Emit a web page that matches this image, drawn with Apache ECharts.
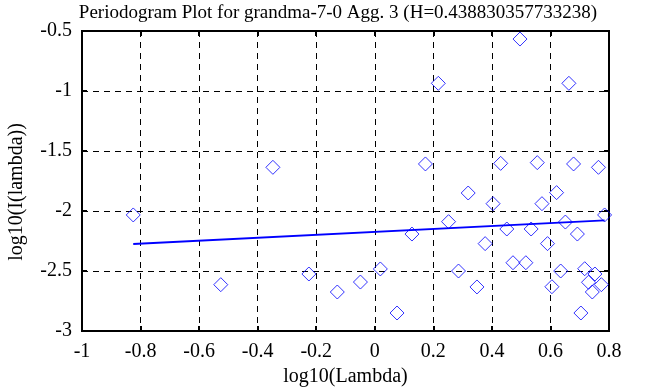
<!DOCTYPE html>
<html><head><meta charset="utf-8">
<script src="https://cdn.jsdelivr.net/npm/echarts@6/dist/echarts.min.js"></script>
<style>html,body{margin:0;padding:0;background:#fff;}#c{width:658px;height:387px;}</style>
</head><body><div id="c"></div>
<script>
var titleText = 'Periodogram Plot for grandma-7-0 Agg. 3 (H=0.438830357733238)';
var xName = 'log10(Lambda)';
var yName = 'log10(I(lambda))';
var xTicks = [-1, -0.8, -0.6, -0.4, -0.2, 0, 0.2, 0.4, 0.6, 0.8];
var yTicks = [-3, -2.5, -2, -1.5, -1, -0.5];
var logLambda = [-0.825,-0.526,-0.348,-0.225,-0.128,-0.049,0.019,0.076,0.127,0.173,0.217,0.252,0.286,0.319,0.349,0.377,0.404,0.430,0.451,0.472,0.496,0.516,0.534,0.555,0.571,0.590,0.605,0.621,0.635,0.651,0.663,0.679,0.692,0.704,0.717,0.730,0.743,0.752,0.764,0.774,0.785];
var logI = [-2.033,-2.614,-1.636,-2.525,-2.675,-2.592,-2.483,-2.85,-2.192,-1.608,-0.936,-2.089,-2.5,-1.85,-2.633,-2.272,-1.939,-1.603,-2.15,-2.431,-0.567,-2.431,-2.15,-1.597,-1.939,-2.272,-2.631,-1.847,-2.5,-2.092,-0.936,-1.608,-2.192,-2.85,-2.481,-2.594,-2.675,-2.525,-1.636,-2.614,-2.033];
var fitX = [-0.825, 0.785];
var fitY = [-2.275, -2.078];

var font = 'Liberation Serif';
var pts = logLambda.map(function(x,i){return [x, logI[i]];});
var fit = fitX.map(function(x,i){return [x, fitY[i]];});
var chart = echarts.init(document.getElementById('c'), null, {renderer:'canvas'});
var lblStyle = {fontFamily: font, fontSize: 20, color: '#000'};
var gridLine = {show:true, lineStyle:{color:'#000', width:1, type:[6,5]}};
var tick = {show:true, inside:true, length:5, lineStyle:{color:'#000', width:2}};
var fmt = function(v){return String(Math.round(v*10)/10);};
chart.setOption({
  animation:false,
  backgroundColor:'#fff',
  title:{text:titleText, left:333, top:-1, textAlign:'center', textStyle:{fontFamily:font, fontSize:19, fontWeight:'normal', color:'#000'}},
  grid:{left:82, right:49, top:31, bottom:56, containLabel:false, outerBoundsMode:'none', show:true, borderColor:'#000', borderWidth:2, backgroundColor:'transparent'},
  xAxis:[{type:'value', min:xTicks[0], max:xTicks[xTicks.length-1], interval:0.2,
    name:xName, nameLocation:'middle', nameGap:36, nameTextStyle:lblStyle,
    axisLine:{show:false, onZero:false}, axisTick:tick,
    axisLabel:Object.assign({margin:11, formatter:fmt}, lblStyle),
    splitLine:gridLine},
    {type:'value', position:'top', min:xTicks[0], max:xTicks[xTicks.length-1], interval:0.2,
    axisLine:{show:false, onZero:false}, axisTick:tick,
    axisLabel:{show:false}, splitLine:{show:false}}],
  yAxis:[{type:'value', min:yTicks[0], max:yTicks[yTicks.length-1], interval:0.5,
    name:yName, nameLocation:'middle', nameGap:55, nameRotate:90,
    nameTextStyle:Object.assign({padding:[0,22,0,0]}, lblStyle),
    axisLine:{show:false, onZero:false}, axisTick:tick,
    axisLabel:Object.assign({margin:10, formatter:fmt}, lblStyle),
    splitLine:gridLine},
    {type:'value', position:'right', min:yTicks[0], max:yTicks[yTicks.length-1], interval:0.5,
    axisLine:{show:false, onZero:false}, axisTick:tick,
    axisLabel:{show:false}, splitLine:{show:false}}],
  series:[
    {type:'scatter', data:pts, symbol:'diamond', symbolSize:[14,14],
     itemStyle:{color:'transparent', borderColor:'#0000ff', borderWidth:1}, z:3},
    {type:'line', data:fit, showSymbol:false, symbol:'none', lineStyle:{color:'#0000ff', width:1.8}, z:4}
  ]
});
</script></body></html>
